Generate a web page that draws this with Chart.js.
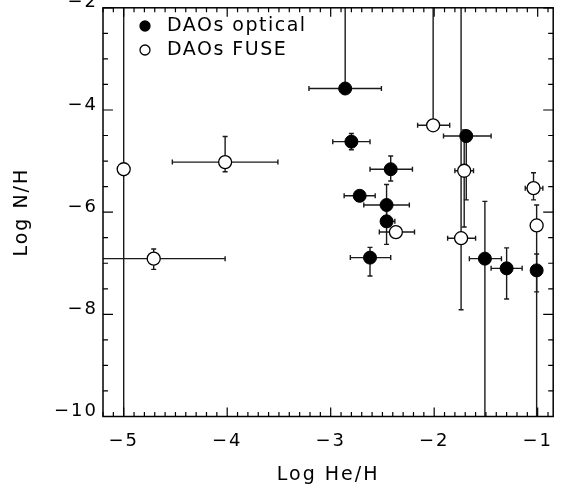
<!DOCTYPE html>
<html>
<head>
<meta charset="utf-8">
<script src="https://cdn.jsdelivr.net/npm/chart.js@4/dist/chart.umd.min.js"></script>
<style>
  html, body { margin: 0; padding: 0; background: #fff; }
  #chart { display: block; }
</style>
</head>
<body>
<canvas id="chart" width="561" height="485"></canvas>
<script>
// axis ticks
const xTicks = [-5, -4, -3, -2, -1];
const yTicks = [-10, -8, -6, -4, -2];

// DAOs optical (filled)
const optHe   = [-2.86, -2.80, -2.42, -2.72, -2.46, -2.46, -2.62, -1.69, -1.51, -1.30, -1.01];
const optN    = [-3.58, -4.62, -5.16, -5.68, -5.86, -6.18, -6.89, -4.51, -6.91, -7.10, -7.14];
const optXlo  = [0.35, 0.18, 0.20, 0.15, 0.22, 0.05, 0.19, 0.22, 0.15, 0.15, 0];
const optXhi  = [0.35, 0.18, 0.21, 0.15, 0.22, 0.08, 0.20, 0.24, 0.16, 0.15, 0];
const optYlo  = [0.10, 0.16, 0.23, 0, 0.40, 0.45, 0.36, 1.25, 5.0, 0.60, 0.42];
const optYhi  = [3.0, 0.16, 0.26, 0, 0.40, 0.30, 0.20, 0.10, 1.12, 0.40, 0.32];

// DAOs FUSE (open)
const fuseHe  = [-5.00, -4.02, -4.71, -2.01, -1.71, -2.37, -1.74, -1.04, -1.01];
const fuseN   = [-5.16, -5.02, -6.91, -4.30, -5.19, -6.39, -6.51, -5.53, -6.26];
const fuseXlo = [0, 0.51, 0.70, 0.15, 0.09, 0.16, 0.13, 0.08, 0];
const fuseXhi = [0, 0.51, 0.69, 0.16, 0.09, 0.18, 0.14, 0.09, 0];
const fuseYlo = [6.0, 0.19, 0.21, 0.05, 1.10, 0, 1.40, 0.23, 5.0];
const fuseYhi = [4.0, 0.50, 0.19, 3.0, 0.80, 0, 5.0, 0.30, 0.40];

const FONT = 'DejaVu Sans';

function points(xs, ys) {
  return xs.map((x, i) => ({ x: x, y: ys[i] }));
}

const errs = [
  { xlo: optXlo, xhi: optXhi, ylo: optYlo, yhi: optYhi },
  { xlo: fuseXlo, xhi: fuseXhi, ylo: fuseYlo, yhi: fuseYhi }
];

// error bars, drawn under the markers
const errorBars = {
  id: 'errorBars',
  beforeDatasetsDraw(chart) {
    const ctx = chart.ctx;
    const xs = chart.scales.x, ys = chart.scales.y;
    const a = chart.chartArea;
    const cap = 2.5;
    ctx.save();
    ctx.beginPath();
    ctx.rect(a.left, a.top, a.right - a.left, a.bottom - a.top);
    ctx.clip();
    ctx.strokeStyle = '#1a1a1a';
    ctx.lineWidth = 1.4;
    chart.data.datasets.forEach((ds, d) => {
      const e = errs[d];
      ds.data.forEach((p, i) => {
        const px = xs.getPixelForValue(p.x), py = ys.getPixelForValue(p.y);
        if (e.xlo[i] || e.xhi[i]) {
          const x0 = xs.getPixelForValue(p.x - e.xlo[i]);
          const x1 = xs.getPixelForValue(p.x + e.xhi[i]);
          ctx.beginPath();
          ctx.moveTo(x0, py); ctx.lineTo(x1, py);
          if (x0 > a.left) { ctx.moveTo(x0, py - cap); ctx.lineTo(x0, py + cap); }
          if (x1 < a.right) { ctx.moveTo(x1, py - cap); ctx.lineTo(x1, py + cap); }
          ctx.stroke();
        }
        if (e.ylo[i] || e.yhi[i]) {
          const y0 = ys.getPixelForValue(p.y - e.ylo[i]);
          const y1 = ys.getPixelForValue(p.y + e.yhi[i]);
          ctx.beginPath();
          ctx.moveTo(px, y0); ctx.lineTo(px, y1);
          if (y0 < a.bottom) { ctx.moveTo(px - cap, y0); ctx.lineTo(px + cap, y0); }
          if (y1 > a.top) { ctx.moveTo(px - cap, y1); ctx.lineTo(px + cap, y1); }
          ctx.stroke();
        }
      });
    });
    ctx.restore();
  }
};

// box with inward ticks on all four sides, plus the legend
const frame = {
  id: 'frame',
  beforeDraw(chart) {
    chart.ctx.letterSpacing = '2px';
  },
  afterDraw(chart) {
    const ctx = chart.ctx;
    const xs = chart.scales.x, ys = chart.scales.y;
    const a = chart.chartArea;
    ctx.save();
    ctx.strokeStyle = '#000';
    ctx.lineWidth = 1.5;
    ctx.strokeRect(a.left, a.top, a.right - a.left, a.bottom - a.top);
    ctx.lineWidth = 1.2;
    ctx.beginPath();
    for (let v = Math.ceil(xs.min * 10); v <= Math.floor(xs.max * 10); v++) {
      const px = xs.getPixelForValue(v / 10);
      const len = v % 10 === 0 ? 9 : 4.5;
      ctx.moveTo(px, a.bottom); ctx.lineTo(px, a.bottom - len);
      ctx.moveTo(px, a.top); ctx.lineTo(px, a.top + len);
    }
    for (let v = Math.ceil(ys.min * 2); v <= Math.floor(ys.max * 2); v++) {
      const py = ys.getPixelForValue(v / 2);
      const len = v % 4 === 0 ? 10 : 5;
      ctx.moveTo(a.left, py); ctx.lineTo(a.left + len, py);
      ctx.moveTo(a.right, py); ctx.lineTo(a.right - len, py);
    }
    ctx.stroke();

    // legend
    ctx.font = '19px "' + FONT + '"';
    ctx.letterSpacing = '1.5px';
    ctx.textBaseline = 'middle';
    ctx.textAlign = 'left';
    ctx.fillStyle = '#000';
    chart.data.datasets.forEach((ds, d) => {
      const y = 26 + d * 24;
      ctx.beginPath();
      ctx.arc(145, y, 5, 0, Math.PI * 2);
      ctx.fillStyle = ds.backgroundColor;
      ctx.fill();
      ctx.lineWidth = 1.3;
      ctx.strokeStyle = '#000';
      ctx.stroke();
      ctx.fillStyle = '#000';
      ctx.fillText(ds.label, 167, y);
    });
    ctx.restore();
  }
};

function fmt(v) {
  return v < 0 ? '\u2212' + Math.abs(v) : String(v);
}

new Chart(document.getElementById('chart'), {
  type: 'scatter',
  data: {
    datasets: [
      {
        label: 'DAOs optical',
        data: points(optHe, optN),
        backgroundColor: '#000',
        borderColor: '#000',
        borderWidth: 1,
        pointRadius: 6.5
      },
      {
        label: 'DAOs FUSE',
        data: points(fuseHe, fuseN),
        backgroundColor: '#fff',
        borderColor: '#000',
        borderWidth: 1.3,
        pointRadius: 6.5
      }
    ]
  },
  options: {
    responsive: false,
    animation: false,
    devicePixelRatio: 1,
    layout: { padding: { top: 6.5, right: 2, bottom: 0, left: 0 } },
    plugins: {
      legend: { display: false },
      tooltip: { enabled: false }
    },
    scales: {
      x: {
        type: 'linear',
        min: -5.2,
        max: -0.85,
        grid: { display: false, drawTicks: false },
        border: { display: false },
        afterBuildTicks: (s) => { s.ticks = xTicks.map(v => ({ value: v })); },
        afterFit: (s) => { s.height = 68.5; s.paddingLeft = 0; s.paddingRight = 0; },
        ticks: {
          color: '#000',
          padding: 14,
          maxRotation: 0,
          font: { family: FONT, size: 18 },
          callback: (v) => fmt(v)
        },
        title: {
          display: true,
          text: 'Log He/H',
          color: '#000',
          padding: { top: 0, bottom: 0 },
          font: { family: FONT, size: 19, lineHeight: 1 }
        }
      },
      y: {
        type: 'linear',
        min: -10,
        max: -2,
        grid: { display: false, drawTicks: false },
        border: { display: false },
        afterBuildTicks: (s) => { s.ticks = yTicks.map(v => ({ value: v })); },
        afterFit: (s) => { s.width = 103; s.paddingTop = 0; s.paddingBottom = 0; },
        ticks: {
          color: '#000',
          padding: 5,
          labelOffset: -5,
          font: { family: FONT, size: 18 },
          callback: (v) => fmt(v)
        },
        title: {
          display: true,
          text: 'Log N/H',
          color: '#000',
          padding: { top: 12.5, bottom: 0 },
          font: { family: FONT, size: 19, lineHeight: 1 }
        }
      }
    }
  },
  plugins: [errorBars, frame]
});
</script>
</body>
</html>
